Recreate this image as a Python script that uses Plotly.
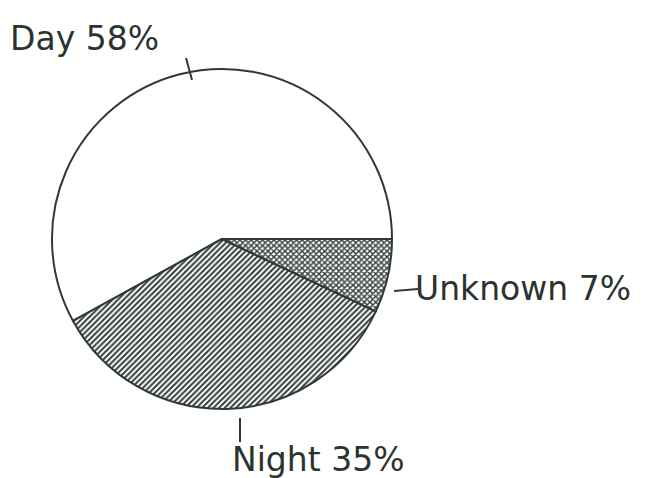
import plotly.graph_objects as go

labels = ['Day', 'Night', 'Unknown']
values = [58, 35, 7]
patterns = ['', '/', 'x']

W, H = 651, 478


def px(x, y):
    # pixel position -> paper coords
    return x / W, 1 - y / H


fig = go.Figure()
fig.add_trace(
    go.Pie(labels=labels,
           values=values,
           sort=False,
           direction='counterclockwise',
           rotation=-118.8,
           textinfo='none',
           hoverinfo='label+percent',
           showlegend=False,
           domain=dict(x=[44 / W, 384 / W], y=[1 - 402 / H, 1 - 60 / H]),
           marker=dict(colors=['white', 'white', 'white'],
                       line=dict(color='#2f3a34', width=2),
                       pattern=dict(shape=patterns, fgcolor='#333d37',
                                    size=4, solidity=[0.5, 0.5, 0.6])))
)

# outside labels with short leader ticks
label_pos = [(0, 30, 'left'), (222, 451, 'left'), (405, 280, 'left')]
ticks = [((178, 50), (184, 72)), ((232, 410), (232, 434)), ((386, 283), (410, 281))]
for (lab, val), (x, y, anc), (p0, p1) in zip(zip(labels, values), label_pos, ticks):
    ax, ay = px(x, y)
    fig.add_annotation(x=ax, y=ay, xref='paper', yref='paper', xanchor=anc,
                       yanchor='middle', showarrow=False,
                       text=f'{lab} {val}%',
                       font=dict(family='DejaVu Sans', size=33, color='#2b332e'))
    x0, y0 = px(*p0)
    x1, y1 = px(*p1)
    fig.add_shape(type='line', xref='paper', yref='paper', x0=x0, y0=y0, x1=x1, y1=y1,
                  line=dict(color='#2f3a34', width=2))

fig.update_layout(
    width=W, height=H,
    margin=dict(l=0, r=0, t=0, b=0),
    paper_bgcolor='white',
    plot_bgcolor='white',
)

fig.write_html("out.html")
